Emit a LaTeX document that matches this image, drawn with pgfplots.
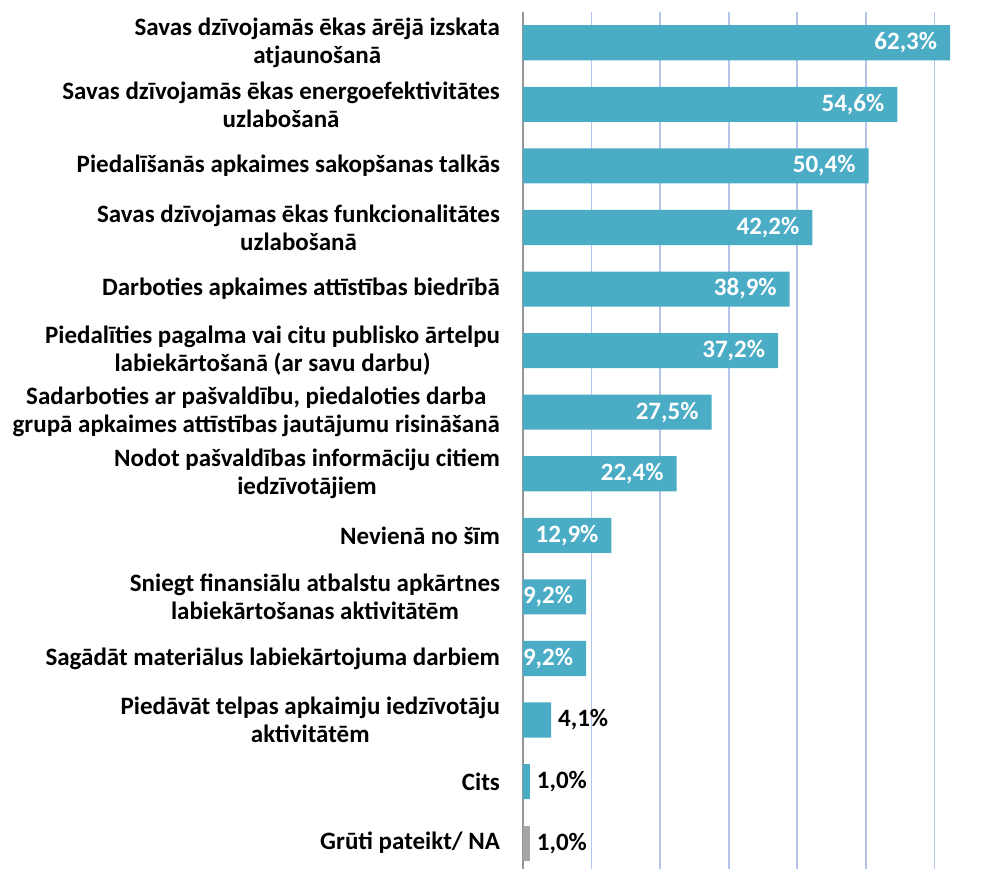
\documentclass[border=0pt]{standalone}
\usepackage{pgfplots}
\pgfplotsset{compat=1.18}
\usepackage{fontspec}
\setmainfont{Carlito}

\definecolor{barblue}{RGB}{75,172,198}
\definecolor{bargray}{RGB}{165,165,165}
\definecolor{gridblue}{RGB}{180,196,234}
\definecolor{axisgray}{RGB}{150,150,150}

\begin{document}
\begin{tikzpicture}
\begin{axis}[
    scale only axis,
    width=216pt, height=428.5pt,
    xmin=0, xmax=63,
    ymin=-0.5, ymax=13.42,
    y dir=reverse,
    axis lines*=left,
    x axis line style={draw=none},
    y axis line style={draw=axisgray, line width=0.6pt},
    xtick={10,20,30,40,50,60},
    xticklabels={},
    xtick style={draw=none},
    xmajorgrids,
    grid style={draw=gridblue, line width=0.8pt},
    ytick={0,...,13},
    ytick style={draw=none},
    yticklabels={
        {Savas dzīvojamās ēkas ārējā izskata\\atjaunošanā},
        {Savas dzīvojamās ēkas energoefektivitātes\\uzlabošanā},
        {Piedalīšanās apkaimes sakopšanas talkās},
        {Savas dzīvojamas ēkas funkcionalitātes\\uzlabošanā},
        {Darboties apkaimes attīstības biedrībā},
        {Piedalīties pagalma vai citu publisko ārtelpu\\labiekārtošanā (ar savu darbu)},
        {Sadarboties ar pašvaldību, piedaloties darba\\grupā apkaimes attīstības jautājumu risināšanā},
        {Nodot pašvaldības informāciju citiem\\iedzīvotājiem},
        {Nevienā no šīm},
        {Sniegt finansiālu atbalstu apkārtnes\\labiekārtošanas aktivitātēm},
        {Sagādāt materiālus labiekārtojuma darbiem},
        {Piedāvāt telpas apkaimju iedzīvotāju\\aktivitātēm},
        {Cits},
        {Grūti pateikt/ NA}
    },
    yticklabel style={align=center, font=\fontsize{12.5}{14}\selectfont\bfseries, xshift=-8pt},
    point meta=x,
    /pgf/number format/assume math mode=true,
    nodes near coords={\pgfmathprintnumber[fixed,fixed zerofill,precision=1,use comma,assume math mode=true]{\pgfplotspointmeta}\%},
    every node near coord/.append style={font=\fontsize{12.5}{14}\selectfont\bfseries},
]

% values large enough to carry their label inside the bar
\addplot[xbar, bar shift=0pt, bar width=0.57, fill=barblue, draw=none,
    every node near coord/.append style={anchor=east, text=white, xshift=-3pt}]
    coordinates {
    (62.3,0) (54.6,1) (50.4,2) (42.2,3) (38.9,4) (37.2,5) (27.5,6)
    (22.4,7) (12.9,8) (9.2,9) (9.2,10)
};

% small values, label outside
\addplot[xbar, bar shift=0pt, bar width=0.57, fill=barblue, draw=none,
    every node near coord/.append style={anchor=west, text=black}]
    coordinates {(4.1,11) (1.0,12)};

\addplot[xbar, bar shift=0pt, bar width=0.57, fill=bargray, draw=none,
    every node near coord/.append style={anchor=west, text=black}]
    coordinates {(1.0,13)};
\end{axis}
\pgfresetboundingbox
\path (current axis.south west) ++(-261.5pt,0pt) coordinate (bbA);
\path (current axis.north east) ++(20pt,6pt) coordinate (bbB);
\path[use as bounding box] (bbA) rectangle (bbB);
\end{tikzpicture}
\end{document}
